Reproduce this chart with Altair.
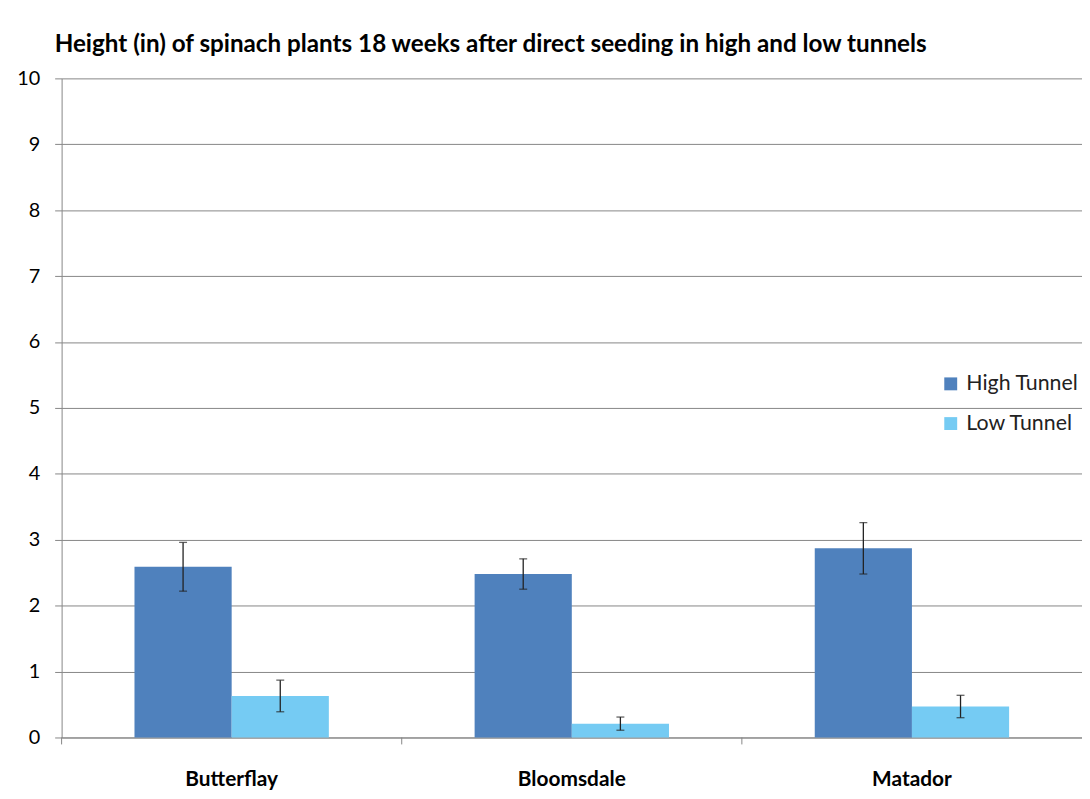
import altair as alt
import pandas as pd

varieties = ["Butterflay", "Bloomsdale", "Matador"]
series = ["High Tunnel", "Low Tunnel"]
high_means = [2.59, 2.48, 2.87]
high_errs = [0.37, 0.23, 0.39]
low_means = [0.63, 0.21, 0.47]
low_errs = [0.24, 0.10, 0.17]
y_ticks = list(range(0, 11))
colors = ["#4F81BD", "#75CBF3"]
title_text = "Height (in) of spinach plants 18 weeks after direct seeding in high and low tunnels"

W, H = 1028, 664
GRAY = "#868686"

rows = []
for i, v in enumerate(varieties):
    rows.append({"variety": v, "tunnel": series[0], "height": high_means[i], "err": high_errs[i]})
    rows.append({"variety": v, "tunnel": series[1], "height": low_means[i], "err": low_errs[i]})
df = pd.DataFrame(rows)
cats = pd.DataFrame({"variety": varieties})

x = alt.X(
    "variety:N", sort=varieties,
    scale=alt.Scale(paddingInner=0, paddingOuter=0),
    axis=alt.Axis(title=None, labelAngle=0, labelFont="Lato", labelFontWeight="bold",
                  labelFontSize=21, labelColor="#000", ticks=False, domainColor=GRAY,
                  labelPadding=31, grid=False),
)
xoff = alt.XOffset("tunnel:N", sort=series, scale=alt.Scale(paddingOuter=0.75, paddingInner=0))
yscale = alt.Scale(domain=[0, 10])

bars = alt.Chart(df).mark_bar().encode(
    x=x,
    xOffset=xoff,
    y=alt.Y("height:Q", scale=yscale,
            axis=alt.Axis(values=y_ticks, format="d", title=None, labelFont="Lato",
                          labelFontSize=20, labelColor="#000", labelPadding=15, tickSize=7,
                          tickColor=GRAY, domainColor=GRAY, gridColor=GRAY, grid=True,
                          labelFlush=False)),
    color=alt.Color("tunnel:N", scale=alt.Scale(domain=series, range=colors),
                    legend=alt.Legend(title=None, orient="none", legendX=885, legendY=297,
                                      symbolType="square", symbolSize=169, labelFont="Lato",
                                      labelFontSize=21.5, labelColor="#222", labelOffset=5,
                                      rowPadding=17, symbolStrokeWidth=0)),
)

err_base = alt.Chart(df).transform_calculate(
    lo="datum.height - datum.err", hi="datum.height + datum.err"
)
err_rule = err_base.mark_rule(color="#222", strokeWidth=1.3).encode(
    x=x, xOffset=xoff,
    y=alt.Y("lo:Q", scale=yscale, title=None), y2="hi:Q",
)
cap_lo = err_base.mark_tick(color="#222", thickness=1.3, size=8, orient="horizontal").encode(
    x=x, xOffset=xoff, y=alt.Y("lo:Q", scale=yscale, title=None),
)
cap_hi = err_base.mark_tick(color="#222", thickness=1.3, size=8, orient="horizontal").encode(
    x=x, xOffset=xoff, y=alt.Y("hi:Q", scale=yscale, title=None),
)

bounds = alt.Chart(cats).mark_rule(color=GRAY, strokeWidth=1).encode(
    x=alt.X("variety:N", sort=varieties, bandPosition=0),
    y=alt.value(H), y2=alt.value(H + 7),
)

chart = alt.layer(bars, err_rule, cap_lo, cap_hi, bounds).properties(
    width=W, height=H,
    padding={"left": 54, "top": 68, "right": 0, "bottom": 50},
    autosize=alt.AutoSizeParams(type="none"),
    title=alt.TitleParams(text=title_text, anchor="start", frame="group", font="Lato",
                          fontSize=24.4, fontWeight="bold", color="#000", dx=-7, dy=33,
                          offset=25, baseline="alphabetic"),
).configure_view(stroke="transparent")

chart.save("out.html", embed_options={"renderer": "svg", "actions": False})
